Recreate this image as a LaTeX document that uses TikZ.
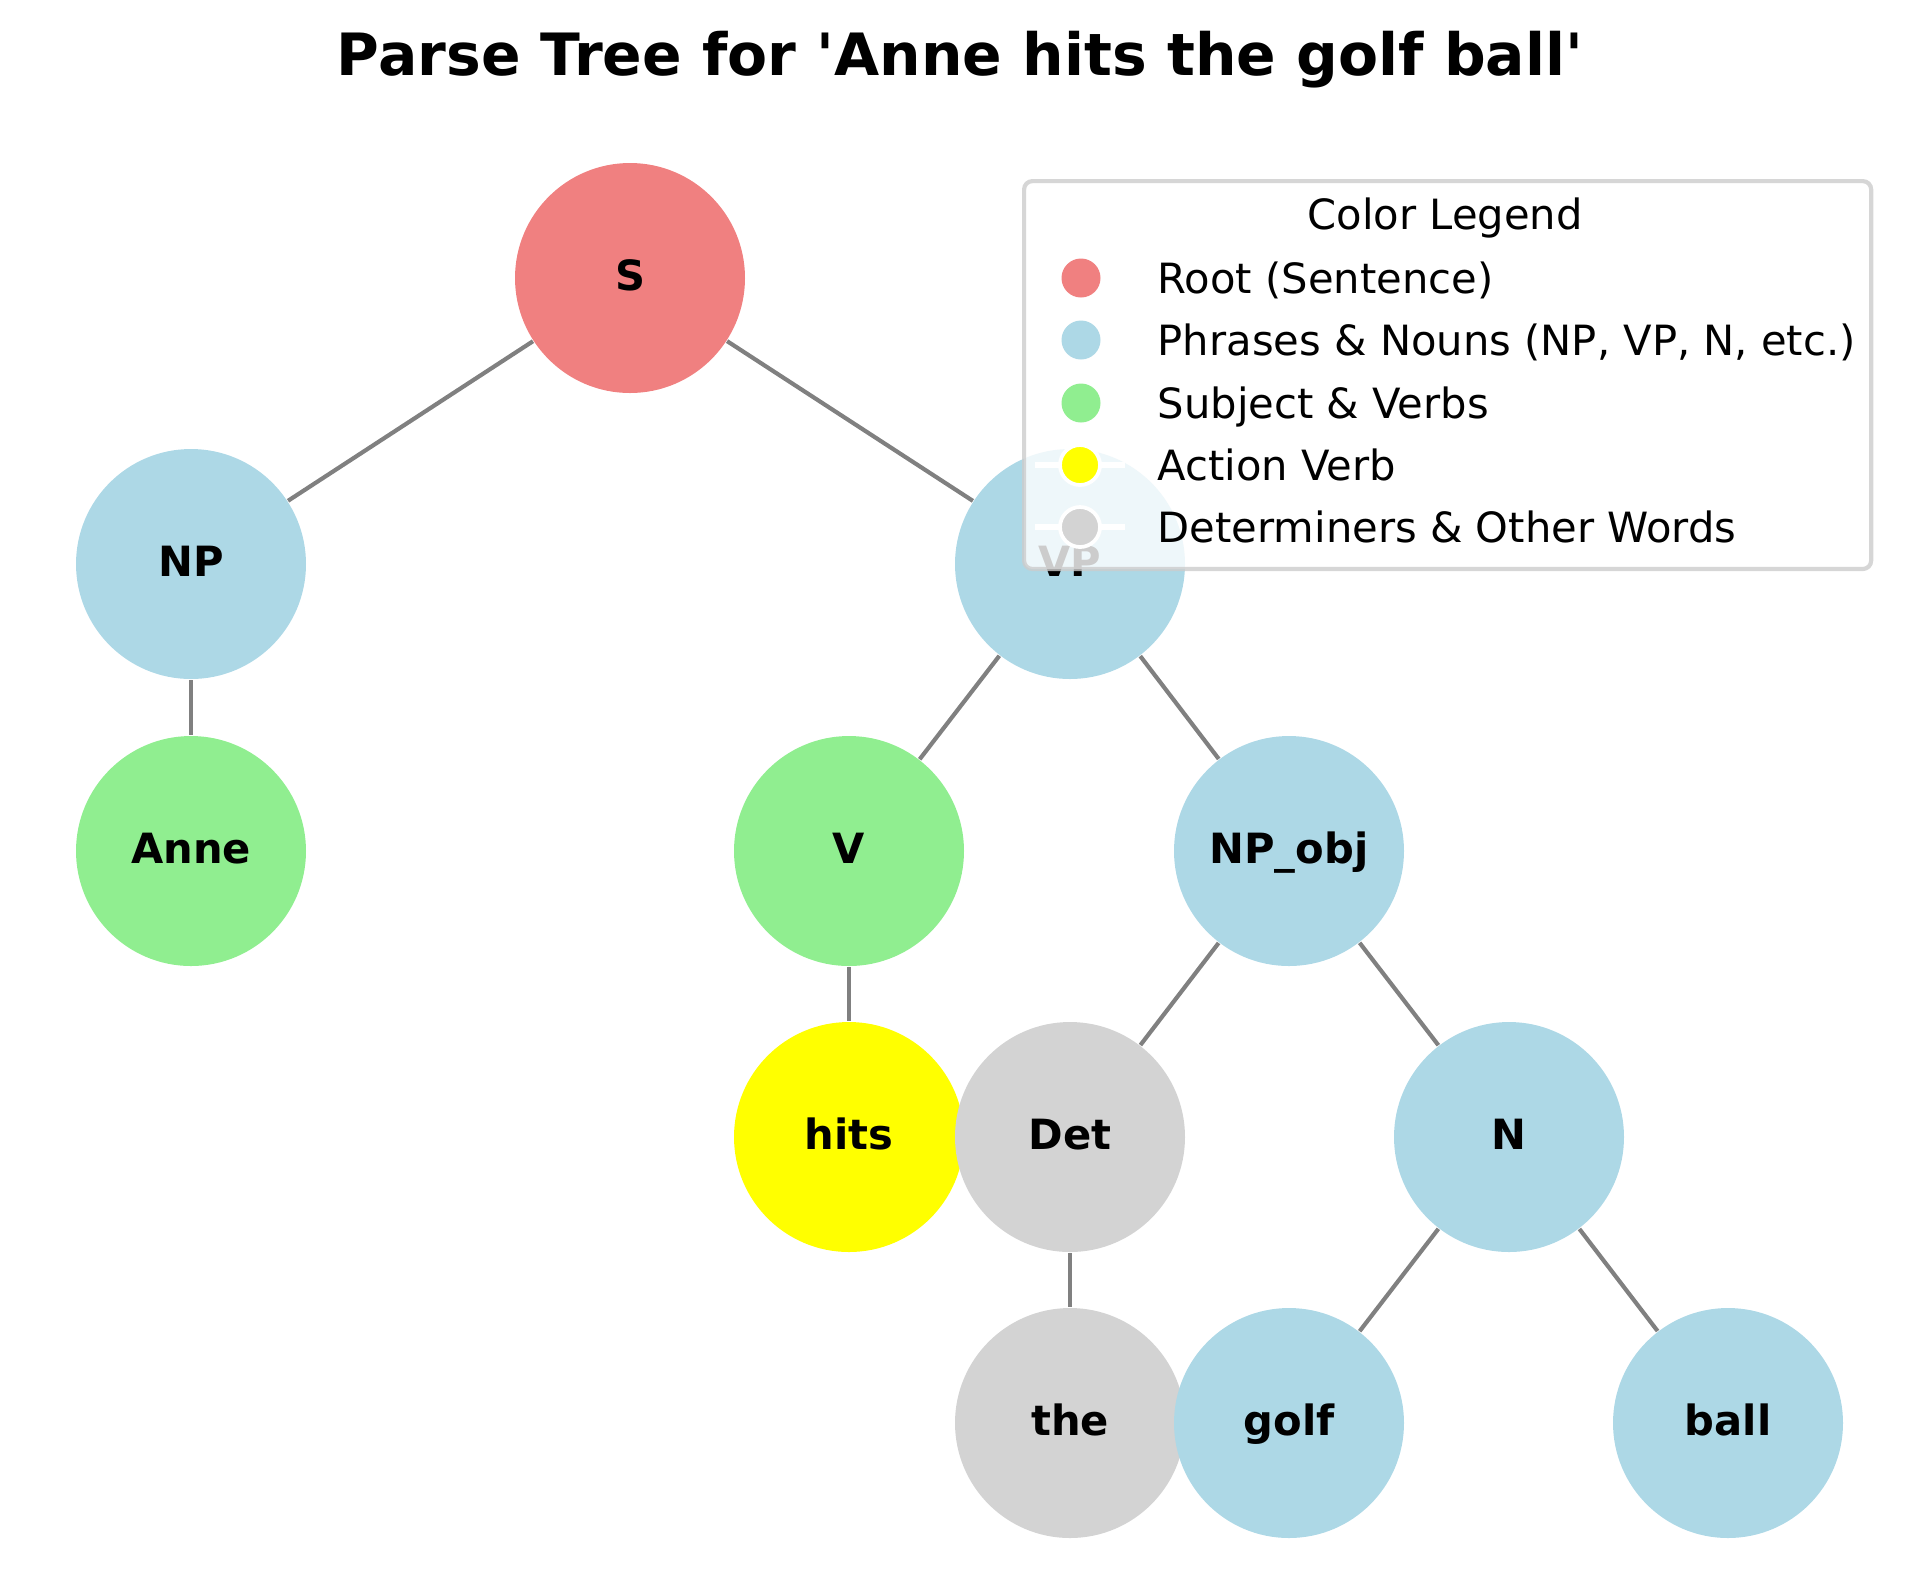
\documentclass[tikz,border=0pt]{standalone}
\usepackage{fontspec}
\setmainfont{DejaVu Sans}
\definecolor{rootc}{HTML}{F08080}
\definecolor{phrc}{HTML}{ADD8E6}
\definecolor{subc}{HTML}{90EE90}
\definecolor{actc}{HTML}{FFFF00}
\definecolor{detc}{HTML}{D3D3D3}
\definecolor{edgec}{HTML}{808080}
\definecolor{framec}{HTML}{CCCCCC}
\tikzset{
  tn/.style={circle, minimum size=55.2pt, inner sep=0pt, text height=0.8em, text depth=0.22em, font=\bfseries\fontsize{10}{12}\selectfont, text=black},
  edge/.style={draw=edgec, line width=1pt},
  legtxt/.style={anchor=base west, inner sep=0pt, font=\fontsize{10}{12}\selectfont},
  legmark/.style={circle, minimum size=9.36pt, inner sep=0pt},
  legmarkw/.style={circle, minimum size=9.6pt, inner sep=0pt, draw=white, line width=0.9pt},
  whiteline/.style={draw=white, line width=1.44pt}
}
\begin{document}
\begin{tikzpicture}[x=0.24pt, y=-0.24pt]
\useasboundingbox (0,0) rectangle (1919,1574);
\node[anchor=base, inner sep=0pt, font=\bfseries\fontsize{14}{17}\selectfont] (title) at (960,75) {Parse Tree for \textquotesingle Anne hits the golf ball\textquotesingle};
% nodes
\node[tn, fill=rootc] (S) at (630,278) {S};
\node[tn, fill=phrc] (NP) at (191,564) {NP};
\node[tn, fill=phrc] (VP) at (1070,564) {VP};
\node[tn, fill=subc] (Anne) at (191,851) {Anne};
\node[tn, fill=subc] (V) at (849,851) {V};
\node[tn, fill=phrc] (NPobj) at (1289,851) {NP\_obj};
\node[tn, fill=actc] (hits) at (849,1137) {hits};
\node[tn, fill=detc] (Det) at (1070,1137) {Det};
\node[tn, fill=phrc] (N) at (1509,1137) {N};
\node[tn, fill=detc] (the) at (1070,1423) {the};
\node[tn, fill=phrc] (golf) at (1289,1423) {golf};
\node[tn, fill=phrc] (ball) at (1728,1423) {ball};
% edges
\draw[edge] (S) -- (NP);
\draw[edge] (S) -- (VP);
\draw[edge] (NP) -- (Anne);
\draw[edge] (VP) -- (V);
\draw[edge] (VP) -- (NPobj);
\draw[edge] (V) -- (hits);
\draw[edge] (NPobj) -- (Det);
\draw[edge] (NPobj) -- (N);
\draw[edge] (Det) -- (the);
\draw[edge] (N) -- (golf);
\draw[edge] (N) -- (ball);
% legend
\node[draw=framec, draw opacity=0.8, fill=white, fill opacity=0.8, rounded corners=2pt, line width=1pt,
      minimum width=203.3pt, minimum height=93.1pt, inner sep=0pt, anchor=north west] (legend) at (1022,179) {};
\node[anchor=base, inner sep=0pt, font=\fontsize{10}{12}\selectfont] (legtitle) at (1445,229) {Color Legend};
\node[legmark, fill=rootc] (m1) at (1081,278) {};
\node[legtxt] (t1) at (1157,293) {Root (Sentence)};
\node[legmark, fill=phrc] (m2) at (1081,340) {};
\node[legtxt] (t2) at (1157,355) {Phrases \& Nouns (NP, VP, N, etc.)};
\node[legmark, fill=subc] (m3) at (1081,403) {};
\node[legtxt] (t3) at (1157,418) {Subject \& Verbs};
\coordinate (l4a) at (1035,465);
\coordinate (l4b) at (1125,465);
\draw[whiteline] (l4a) -- (l4b);
\node[legmarkw, fill=actc] (m4) at (1080,465) {};
\node[legtxt] (t4) at (1157,480) {Action Verb};
\coordinate (l5a) at (1035,527);
\coordinate (l5b) at (1125,527);
\draw[whiteline] (l5a) -- (l5b);
\node[legmarkw, fill=detc] (m5) at (1080,527) {};
\node[legtxt] (t5) at (1157,542) {Determiners \& Other Words};
\end{tikzpicture}
\end{document}
